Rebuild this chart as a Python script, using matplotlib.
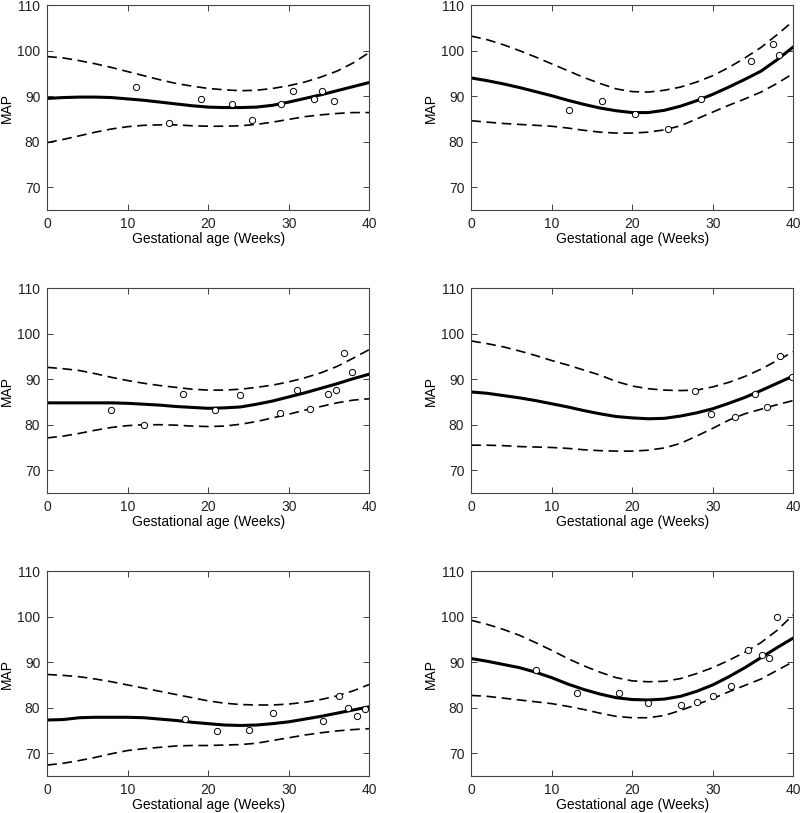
import matplotlib
matplotlib.use('Agg')
import matplotlib.pyplot as plt

plt.rcParams['font.family'] = ['Liberation Sans', 'DejaVu Sans']
plt.rcParams['lines.scale_dashes'] = False

weeks = [0, 2, 4, 6, 8, 10, 12, 14, 16, 18, 20, 22, 24, 26, 28, 30, 32, 34, 36, 38, 40]

# panel 1 (top left)
mean1 = [89.5, 89.7, 89.8, 89.8, 89.7, 89.4, 89.1, 88.7, 88.3, 87.9, 87.6, 87.5, 87.5, 87.6, 88.0, 88.7, 89.5, 90.3, 91.2, 92.1, 93.0]
upper1 = [98.7, 98.4, 97.8, 97.1, 96.3, 95.4, 94.5, 93.6, 92.8, 92.2, 91.7, 91.4, 91.2, 91.3, 91.7, 92.3, 93.1, 94.2, 95.5, 97.3, 99.6]
lower1 = [79.8, 80.5, 81.3, 82.1, 82.8, 83.3, 83.6, 83.7, 83.7, 83.5, 83.4, 83.4, 83.5, 83.8, 84.3, 84.9, 85.5, 85.9, 86.2, 86.4, 86.4]
obs_x1 = [11.0, 15.1, 19.1, 23.0, 25.5, 29.1, 30.5, 33.1, 34.1, 35.6]
obs_y1 = [92.1, 84.0, 89.4, 88.2, 84.7, 88.3, 91.1, 89.3, 91.1, 89.0]

# panel 2 (top right)
mean2 = [94.0, 93.4, 92.7, 91.9, 91.0, 90.1, 89.1, 88.2, 87.4, 86.8, 86.4, 86.4, 86.9, 87.8, 89.0, 90.4, 92.0, 93.7, 95.5, 98.0, 100.8]
upper2 = [103.2, 102.4, 101.3, 100.0, 98.6, 97.1, 95.6, 94.1, 92.8, 91.6, 91.0, 90.9, 91.3, 92.0, 93.1, 94.5, 96.3, 98.4, 100.7, 103.5, 106.5]
lower2 = [84.6, 84.3, 84.0, 83.8, 83.6, 83.4, 83.0, 82.5, 82.1, 81.9, 81.9, 82.1, 82.6, 83.5, 85.0, 86.5, 88.0, 89.4, 90.9, 92.8, 95.0]
obs_x2 = [12.2, 16.3, 20.3, 24.4, 28.5, 34.7, 37.5, 38.2]
obs_y2 = [86.9, 89.0, 86.0, 82.7, 89.4, 97.8, 101.4, 99.0]

# panel 3 (middle left)
mean3 = [84.8, 84.8, 84.8, 84.8, 84.8, 84.7, 84.5, 84.3, 84.0, 83.8, 83.6, 83.7, 83.9, 84.5, 85.2, 86.1, 87.0, 88.0, 89.0, 90.1, 91.1]
upper3 = [92.6, 92.3, 91.9, 91.2, 90.4, 89.7, 89.1, 88.6, 88.2, 87.8, 87.6, 87.6, 87.8, 88.2, 88.7, 89.4, 90.3, 91.4, 92.8, 94.6, 96.5]
lower3 = [77.1, 77.5, 78.1, 78.8, 79.4, 79.8, 80.0, 80.0, 79.9, 79.7, 79.6, 79.7, 80.1, 80.7, 81.5, 82.3, 83.2, 84.0, 84.8, 85.4, 85.7]
obs_x3 = [7.9, 12.0, 16.9, 20.8, 23.9, 28.9, 31.0, 32.7, 34.9, 35.9, 36.9, 37.9]
obs_y3 = [83.3, 80.0, 86.7, 83.3, 86.5, 82.6, 87.6, 83.5, 86.7, 87.6, 95.8, 91.5]

# panel 4 (middle right)
mean4 = [87.2, 86.9, 86.4, 85.9, 85.3, 84.6, 83.9, 83.1, 82.4, 81.8, 81.5, 81.3, 81.4, 81.9, 82.6, 83.5, 84.7, 86.0, 87.5, 89.1, 90.7]
upper4 = [98.4, 97.8, 97.1, 96.2, 95.2, 94.1, 93.1, 92.0, 90.9, 89.5, 88.5, 87.9, 87.6, 87.5, 87.6, 88.3, 89.3, 90.6, 92.2, 94.1, 96.0]
lower4 = [75.5, 75.5, 75.4, 75.2, 75.1, 75.0, 74.8, 74.5, 74.3, 74.2, 74.2, 74.4, 74.9, 75.9, 77.5, 79.2, 81.0, 82.4, 83.4, 84.4, 85.3]
obs_x4 = [27.8, 29.8, 32.8, 35.3, 36.8, 38.4, 39.9]
obs_y4 = [87.5, 82.4, 81.7, 86.7, 83.8, 95.1, 90.5]

# panel 5 (bottom left)
mean5 = [77.3, 77.4, 77.8, 77.9, 77.9, 77.9, 77.8, 77.5, 77.2, 76.8, 76.5, 76.2, 76.1, 76.2, 76.5, 76.9, 77.5, 78.1, 78.8, 79.5, 80.2]
upper5 = [87.3, 87.1, 86.8, 86.3, 85.7, 85.0, 84.3, 83.6, 82.9, 82.2, 81.5, 81.0, 80.7, 80.6, 80.6, 80.8, 81.2, 81.8, 82.6, 83.7, 85.1]
lower5 = [67.4, 67.8, 68.4, 69.1, 69.9, 70.6, 71.0, 71.3, 71.6, 71.7, 71.7, 71.8, 71.9, 72.2, 72.8, 73.4, 74.0, 74.5, 74.9, 75.2, 75.4]
obs_x5 = [17.1, 21.1, 25.1, 28.1, 34.2, 36.2, 37.4, 38.5, 39.5]
obs_y5 = [77.5, 74.8, 75.0, 78.8, 77.1, 82.5, 79.9, 78.1, 79.7]

# panel 6 (bottom right)
mean6 = [90.8, 90.2, 89.5, 88.8, 87.8, 86.6, 85.2, 84.0, 83.0, 82.2, 81.8, 81.7, 81.9, 82.5, 83.6, 85.0, 86.8, 88.8, 91.0, 93.2, 95.3]
upper6 = [99.2, 98.3, 97.2, 95.9, 94.3, 92.6, 90.8, 89.2, 87.8, 86.6, 85.9, 85.7, 85.8, 86.4, 87.5, 88.8, 90.4, 92.2, 94.3, 97.0, 100.4]
lower6 = [82.7, 82.5, 82.1, 81.7, 81.3, 80.9, 80.3, 79.6, 78.8, 78.1, 77.8, 77.8, 78.3, 79.4, 80.7, 82.0, 83.5, 84.9, 86.3, 88.2, 90.1]
obs_x6 = [8.0, 13.2, 18.3, 22.0, 26.1, 28.0, 30.0, 32.3, 34.4, 36.1, 37.0, 38.0]
obs_y6 = [88.3, 83.3, 83.3, 81.0, 80.6, 81.3, 82.6, 84.7, 92.6, 91.6, 90.9, 100.0]

panels = [
    (mean1, upper1, lower1, obs_x1, obs_y1),
    (mean2, upper2, lower2, obs_x2, obs_y2),
    (mean3, upper3, lower3, obs_x3, obs_y3),
    (mean4, upper4, lower4, obs_x4, obs_y4),
    (mean5, upper5, lower5, obs_x5, obs_y5),
    (mean6, upper6, lower6, obs_x6, obs_y6),
]

# axes boxes in figure fractions: [left, bottom, width, height]
lefts = [0.059, 0.589]
bottoms = [0.7417, 0.3936, 0.0455]

fig = plt.figure(figsize=(8, 8.13), dpi=100)
for i, (mean, upper, lower, ox, oy) in enumerate(panels):
    ax = fig.add_axes([lefts[i % 2], bottoms[i // 2], 0.4025, 0.252])
    ax.plot(weeks, upper, color='black', lw=1.2, dashes=(7, 4))
    ax.plot(weeks, lower, color='black', lw=1.2, dashes=(7, 4))
    ax.plot(weeks, mean, color='black', lw=2.2)
    ax.plot(ox, oy, 'o', mfc='white', mec='black', ms=4.5, mew=0.7)
    ax.set_xlim(0, 40)
    ax.set_ylim(65, 110)
    ax.set_xticks([0, 10, 20, 30, 40])
    ax.set_yticks([70, 80, 90, 100, 110])
    ax.tick_params(direction='in', top=True, right=True, length=4, width=0.6,
                   labelsize=10, colors='#222222', pad=5)
    for s in ax.spines.values():
        s.set_color('#444444')
        s.set_linewidth(0.8)
    ax.set_xlabel('Gestational age (Weeks)', fontsize=10, labelpad=1)
    ax.set_ylabel('MAP', fontsize=10, labelpad=2)

fig.savefig('out.png', dpi=100)
